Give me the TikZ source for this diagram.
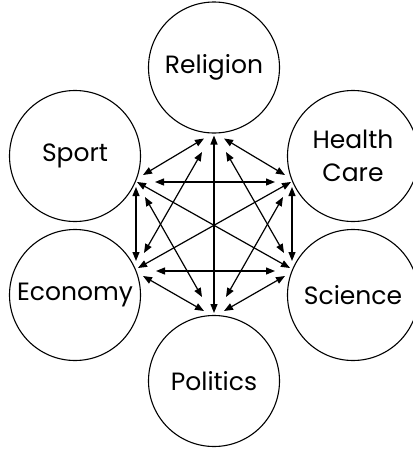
\documentclass[tikz,border=0pt]{standalone}
\usepackage{fontspec}
\setmainfont{Poppins}
\usetikzlibrary{arrows.meta,calc}
\tikzset{
  circ/.style={draw=black, line width=1.1pt, circle, minimum size=131pt, inner sep=0pt,
    align=center, font=\fontsize{25}{33}\selectfont},
  arr/.style={line width=1.2pt, {Triangle[length=9pt,width=7pt]}-{Triangle[length=9pt,width=7pt]}}
}
\begin{document}
\begin{tikzpicture}[x=1pt,y=-1pt]
\useasboundingbox (0,0) rectangle (413,451);
\node[circ] (R)  at (214,67.5) {Religion};
\node[circ] (S)  at (75,156)   {Sport};
\node[circ] (H)  at (353,156)  {Health\\Care};
\node[circ] (E)  at (75,295)   {Economy};
\node[circ] (Sc) at (353,295)  {Science};
\node[circ] (P)  at (214,381)  {Politics};
% Religion edges
\draw[arr] ($(R)+(-10,71)$) -- ($(S)+(68,19)$);
\draw[arr] ($(R)+(10,71)$) -- ($(H)+(-68,19)$);
\draw[arr] ($(R)+(0,68)$) -- ($(P)+(0,-68)$);
\draw[arr] ($(R)+(-12,84.5)$) -- ($(E)+(69,-42)$);
\draw[arr] ($(R)+(12,84.5)$) -- ($(Sc)+(-69,-42)$);
% Politics edges
\draw[arr] ($(P)+(-10,-70)$) -- ($(E)+(68,-19)$);
\draw[arr] ($(P)+(10,-70)$) -- ($(Sc)+(-68,-19)$);
\draw[arr] ($(P)+(-12,-84)$) -- ($(S)+(70,41)$);
\draw[arr] ($(P)+(12,-84)$) -- ($(H)+(-70,41)$);
% horizontal edges
\draw[arr] ($(S)+(80,26)$) -- ($(H)+(-78,26)$);
\draw[arr] ($(E)+(81,-24)$) -- ($(Sc)+(-78,-24)$);
% vertical side edges
\draw[arr] ($(S)+(61,31)$) -- ($(E)+(61,-34)$);
\draw[arr] ($(H)+(-61,31)$) -- ($(Sc)+(-61,-34)$);
% long diagonals
\draw[arr] ($(S)+(62,26)$) -- ($(Sc)+(-63,-27)$);
\draw[arr] ($(H)+(-62,26)$) -- ($(E)+(63,-27)$);
\end{tikzpicture}
\end{document}
